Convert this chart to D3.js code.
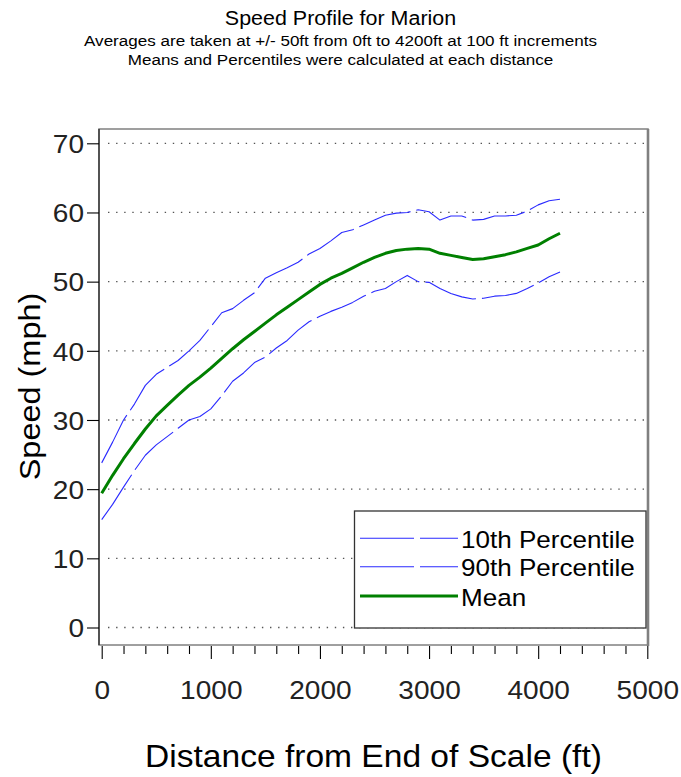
<!DOCTYPE html>
<html>
<head>
<meta charset="utf-8">
<script src="https://cdn.jsdelivr.net/npm/d3@7/dist/d3.min.js"></script>
<style>
  html, body { margin: 0; padding: 0; background: #fff; }
  svg { display: block; font-family: "Liberation Sans", Arial, sans-serif; }
</style>
</head>
<body>
<svg id="chart" width="681" height="777"></svg>
<script>
// Distance from end of scale (ft), sampled every 100 ft
const distance = [0, 100, 200, 300, 400, 500, 600, 700, 800, 900,
  1000, 1100, 1200, 1300, 1400, 1500, 1600, 1700, 1800, 1900,
  2000, 2100, 2200, 2300, 2400, 2500, 2600, 2700, 2800, 2900,
  3000, 3100, 3200, 3300, 3400, 3500, 3600, 3700, 3800, 3900,
  4000, 4100, 4200];

// Mean speed (mph)
const meanSpeed = [19.4, 22.0, 24.4, 26.6, 28.7, 30.6, 32.1, 33.6, 35.0, 36.2,
  37.5, 38.9, 40.3, 41.6, 42.8, 44.0, 45.2, 46.3, 47.4, 48.5,
  49.6, 50.5, 51.2, 52.0, 52.8, 53.5, 54.1, 54.5, 54.7, 54.8,
  54.7, 54.1, 53.8, 53.5, 53.2, 53.3, 53.6, 53.9, 54.3, 54.8,
  55.3, 56.2, 57.0];

// 10th percentile speed (mph)
const p10Speed = [15.6, 17.8, 20.3, 22.7, 24.9, 26.4, 27.6, 28.8, 30.0, 30.5,
  31.6, 33.5, 35.6, 36.8, 38.3, 39.1, 40.4, 41.5, 43.0, 44.2,
  45.0, 45.7, 46.3, 47.0, 47.9, 48.6, 49.0, 50.0, 50.9, 50.0,
  49.9, 49.0, 48.3, 47.8, 47.5, 47.6, 47.9, 48.0, 48.3, 49.0,
  49.8, 50.7, 51.4];

// 90th percentile speed (mph)
const p90Speed = [23.8, 26.8, 30.0, 32.3, 35.0, 36.6, 37.6, 38.6, 40.0, 41.5,
  43.5, 45.5, 46.1, 47.3, 48.4, 50.5, 51.3, 52.0, 52.8, 54.0,
  54.8, 55.9, 57.1, 57.5, 58.2, 58.9, 59.6, 59.9, 60.0, 60.4,
  60.1, 58.9, 59.5, 59.5, 58.9, 59.0, 59.5, 59.5, 59.6, 60.2,
  61.1, 61.7, 61.9];

const xTicks = [0, 1000, 2000, 3000, 4000, 5000];
const xMinorTicks = [200, 400, 600, 800, 1200, 1400, 1600, 1800, 2200, 2400, 2600, 2800,
  3200, 3400, 3600, 3800, 4200, 4400, 4600, 4800];
const yTicks = [0, 10, 20, 30, 40, 50, 60, 70];

const titleText = "Speed Profile for Marion";
const subtitleLines = [
  "Averages are taken at +/- 50ft from 0ft to 4200ft at 100 ft increments",
  "Means and Percentiles were calculated at each distance"
];
const xTitle = "Distance from End of Scale (ft)";
const yTitle = "Speed (mph)";
const legendLabels = ["10th Percentile", "90th Percentile", "Mean"];

const svg = d3.select("#chart");

// Widen glyphs slightly so the text keeps the broad look of the original typeface
const STRETCH = 1.1;
function widen(sel, k = STRETCH) {
  sel.each(function () {
    const w = this.getComputedTextLength();
    d3.select(this).attr("textLength", w * k).attr("lengthAdjust", "spacingAndGlyphs");
  });
  return sel;
}

const frame = { left: 99, right: 648, top: 129, bottom: 645 };
const x = d3.scaleLinear().domain([0, 5000]).range([101.7, 647.3]);
const y = d3.scaleLinear().domain([0, 70]).range([627.5, 143.3]);

// Titles
svg.append("text").attr("x", 340.5).attr("y", 25).attr("text-anchor", "middle")
  .attr("font-size", 19.5).attr("fill", "#000").text(titleText).call(widen);
subtitleLines.forEach((t, i) => {
  svg.append("text").attr("x", 340.5).attr("y", 46 + i * 19).attr("text-anchor", "middle")
    .attr("font-size", 15.5).attr("fill", "#000").text(t).call(widen);
});

// Dotted horizontal grid
svg.append("g").selectAll("line").data(yTicks).join("line")
  .attr("x1", 108).attr("x2", frame.right - 2)
  .attr("y1", d => y(d)).attr("y2", d => y(d))
  .attr("stroke", "#555").attr("stroke-width", 1.3)
  .attr("stroke-dasharray", "1.4,6.7");

// Plot frame
svg.append("rect")
  .attr("x", frame.left).attr("y", frame.top)
  .attr("width", frame.right - frame.left).attr("height", frame.bottom - frame.top)
  .attr("fill", "none").attr("stroke", "#808080").attr("stroke-width", 1.5);
svg.append("line").attr("x1", frame.right).attr("x2", frame.right)
  .attr("y1", frame.top).attr("y2", frame.bottom + 1)
  .attr("stroke", "#808080").attr("stroke-width", 2.6);
svg.append("line").attr("x1", frame.left).attr("x2", frame.left)
  .attr("y1", frame.top).attr("y2", frame.bottom)
  .attr("stroke", "#333").attr("stroke-width", 1.4);

// Y axis ticks and labels
const yAxis = d3.axisLeft(y).tickValues(yTicks).tickSize(12).tickPadding(3).tickFormat(d3.format("d"));
const gy = svg.append("g").attr("transform", `translate(${frame.left},0)`).call(yAxis);
gy.select(".domain").remove();
gy.selectAll(".tick line").attr("stroke", "#000").attr("stroke-width", 1.1);
gy.selectAll(".tick text").attr("font-size", 25.5).attr("font-family", "Liberation Sans, Arial, sans-serif")
  .attr("fill", "#222").attr("dy", "0.36em").call(widen);

// X axis: major ticks with labels, minor ticks between
const xAxis = d3.axisBottom(x).tickValues(xTicks).tickSize(13).tickPadding(22).tickFormat(d3.format("d"));
const gx = svg.append("g").attr("transform", `translate(0,${frame.bottom + 1})`).call(xAxis);
gx.select(".domain").remove();
gx.selectAll(".tick line").attr("stroke", "#000").attr("stroke-width", 1.1);
gx.selectAll(".tick text").attr("font-size", 25.5).attr("font-family", "Liberation Sans, Arial, sans-serif")
  .attr("fill", "#222").call(widen);
const xMinor = d3.axisBottom(x).tickValues(xMinorTicks).tickSize(8).tickFormat("");
const gxm = svg.append("g").attr("transform", `translate(0,${frame.bottom + 1})`).call(xMinor);
gxm.select(".domain").remove();
gxm.selectAll(".tick line").attr("stroke", "#000").attr("stroke-width", 1.1);

// Axis titles
svg.append("text").attr("x", 373.5).attr("y", 767).attr("text-anchor", "middle")
  .attr("font-size", 30.5).attr("fill", "#000").text(xTitle).call(widen);
svg.append("text").attr("transform", "translate(40,386.5) rotate(-90)").attr("text-anchor", "middle")
  .attr("font-size", 29.5).attr("fill", "#000").text(yTitle).call(widen);

// Series lines
const line = (vals) => d3.line().x((d, i) => x(distance[i])).y(d => y(d))(vals);
const series = [
  { label: legendLabels[0], values: p10Speed, color: "#2a2aff", width: 1.1, dash: "54,6" },
  { label: legendLabels[1], values: p90Speed, color: "#2a2aff", width: 1.1, dash: "54,6" },
  { label: legendLabels[2], values: meanSpeed, color: "#008000", width: 3, dash: null }
];
const plot = svg.append("g");
series.forEach(s => {
  plot.append("path").attr("d", line(s.values))
    .attr("fill", "none").attr("stroke", s.color).attr("stroke-width", s.width)
    .attr("stroke-linejoin", "round")
    .attr("stroke-dasharray", s.dash);
});

// Legend
const lg = svg.append("g");
lg.append("rect").attr("x", 354.5).attr("y", 511).attr("width", 291.5).attr("height", 117)
  .attr("fill", "#fff").attr("stroke", "#333").attr("stroke-width", 1.3);
const rowY = [538.3, 566.7, 596];
series.forEach((s, i) => {
  lg.append("line").attr("x1", 360).attr("x2", 458).attr("y1", rowY[i]).attr("y2", rowY[i])
    .attr("stroke", s.color).attr("stroke-width", s.width).attr("stroke-dasharray", s.dash);
  lg.append("text").attr("x", 461).attr("y", rowY[i] + 9.5)
    .attr("font-size", 23.7).attr("fill", "#000").text(s.label).call(widen);
});
</script>
</body>
</html>
